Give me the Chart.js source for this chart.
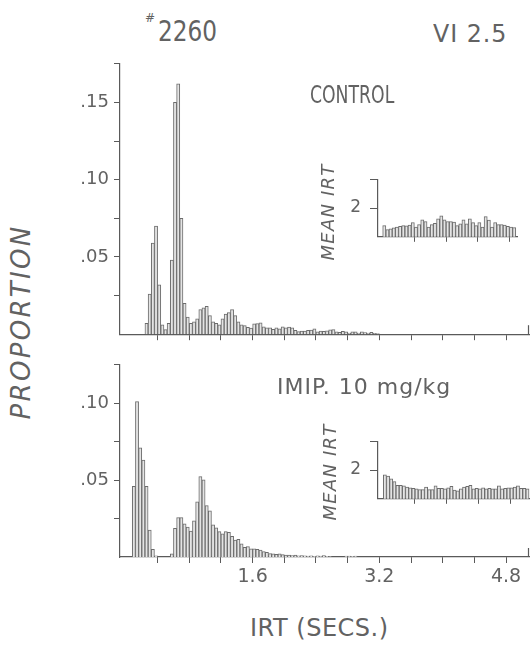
<!DOCTYPE html>
<html lang="en">
<head>
  <meta charset="UTF-8" />
  <title>IRT distribution - #2260 VI 2.5</title>
  <script src="https://cdn.jsdelivr.net/npm/chart.js"></script>
  <style>
    html, body { margin: 0; padding: 0; background: #fff; }
    #fig {
      position: relative; width: 530px; height: 651px; overflow: hidden;
      font-family: 'DejaVu Sans', sans-serif; color: #626262;
    }
    #fig canvas { position: absolute; }
    .lbl { position: absolute; white-space: nowrap; line-height: 1; transform-origin: 0 0; }
    .rot {
      position: absolute; white-space: nowrap; line-height: 1; font-style: italic;
      transform: translate(-50%, -50%) rotate(-90deg);
    }
  </style>
</head>
<body>
  <div id="fig">
    <canvas id="controlChart" width="490" height="302" style="left:40px;top:48px"></canvas>
    <canvas id="controlInset" width="188" height="96" style="left:330px;top:160px"></canvas>
    <canvas id="imipChart" width="490" height="251" style="left:40px;top:349px"></canvas>
    <canvas id="imipInset" width="200" height="96" style="left:330px;top:422px"></canvas>

    <div class="lbl" style="left:145px;top:12px;font-size:12px">#</div>
    <div class="lbl" style="left:158px;top:17px;font-size:29px;transform:scaleX(0.8)">2260</div>
    <div class="lbl" style="left:433px;top:21px;font-size:25px;letter-spacing:1px;transform:scaleX(0.95)">VI 2.5</div>
    <div class="lbl" style="left:310px;top:82px;font-size:25px;transform:scaleX(0.69)">CONTROL</div>
    <div class="lbl" style="left:277px;top:376px;font-size:22px;letter-spacing:1px">IMIP. 10 mg/kg</div>
    <div class="rot" style="left:21px;top:322px;font-size:26px;letter-spacing:2.3px">PROPORTION</div>
    <div class="rot" style="left:328px;top:212px;font-size:18px;letter-spacing:1.2px">MEAN IRT</div>
    <div class="rot" style="left:330px;top:472px;font-size:18px;letter-spacing:1.2px">MEAN IRT</div>
    <div class="lbl" style="left:250px;top:616px;font-size:24px;letter-spacing:0.5px">IRT (SECS.)</div>
  </div>

  <script>
    // bin width of the IRT histograms (seconds)
    const BIN = 0.04;

    // control session: proportion per bin, first bin centred at controlStart
    const controlStart = 0.26;
    const controlProp = [
      0.007, 0.026, 0.059, 0.070, 0.032, 0.006, 0.003, 0.007, 0.048, 0.150,
      0.162, 0.075, 0.020, 0.011, 0.007, 0.008, 0.010, 0.016, 0.017, 0.018,
      0.012, 0.008, 0.007, 0.006, 0.010, 0.013, 0.014, 0.016, 0.012, 0.008,
      0.006, 0.0055, 0.0045, 0.004, 0.0067, 0.0069, 0.0073, 0.0048, 0.0042, 0.0042,
      0.0031, 0.0042, 0.0035, 0.0048, 0.0042, 0.0046, 0.0042, 0.0025, 0.0017, 0.0021,
      0.0021, 0.0025, 0.0027, 0.0035, 0.0015, 0.002, 0.0018, 0.0022, 0.0028, 0.003,
      0.0015, 0.0012, 0.0018, 0.0015, 0.0008, 0.0015, 0.0015, 0.0008, 0.0015, 0.001,
      0.0008, 0.0012, 0.0006, 0.0004
    ];

    // imipramine 10 mg/kg session
    const imipStart = 0.10;
    const imipProp = [
      0.046, 0.101, 0.071, 0.063, 0.046, 0.0175, 0.005, 0.0008, 0, 0,
      0, 0, 0.002, 0.0186, 0.0257, 0.0257, 0.0215, 0.0194, 0.0169, 0.0236,
      0.0359, 0.0523, 0.0502, 0.0335, 0.030, 0.021, 0.019, 0.0165, 0.015, 0.0165,
      0.016, 0.0135, 0.011, 0.0115, 0.0085, 0.0063, 0.0068, 0.0053, 0.0053, 0.005,
      0.0045, 0.0035, 0.003, 0.0022, 0.002, 0.0018, 0.002, 0.0015, 0.0012, 0.0012,
      0.001, 0.0012, 0.0008, 0.001, 0.0008, 0.0006, 0.0008, 0.0005, 0.0008, 0.0006,
      0.001, 0.0004, 0.0003, 0, 0, 0, 0, 0.0006, 0.0006, 0.0004,
      0.0006
    ];

    // insets: mean IRT (s) per successive block
    const controlMeanIrt = [
      1.39, 1.25, 1.28, 1.31, 1.34, 1.36, 1.39, 1.38, 1.41, 1.49,
      1.34, 1.42, 1.59, 1.53, 1.34, 1.42, 1.47, 1.62, 1.73, 1.59,
      1.53, 1.53, 1.51, 1.39, 1.45, 1.59, 1.45, 1.62, 1.49, 1.39,
      1.49, 1.34, 1.70, 1.58, 1.34, 1.49, 1.42, 1.42, 1.41, 1.36,
      1.34, 1.32
    ];
    const imipMeanIrt = [
      1.83, 1.79, 1.69, 1.60, 1.47, 1.47, 1.45, 1.41, 1.38, 1.36,
      1.35, 1.32, 1.32, 1.41, 1.32, 1.32, 1.45, 1.36, 1.36, 1.35,
      1.38, 1.43, 1.30, 1.28, 1.35, 1.41, 1.43, 1.47, 1.35, 1.36,
      1.35, 1.38, 1.35, 1.36, 1.35, 1.35, 1.45, 1.35, 1.36, 1.38,
      1.38, 1.41, 1.45, 1.36, 1.36, 1.35
    ];

    // axes
    const xTickValues = [0.4, 0.8, 1.2, 1.6, 2.0, 2.4, 2.8, 3.2, 3.6, 4.0, 4.4, 4.8];
    const xLabelled = ['1.6', '3.2', '4.8'];
    const controlYTicks = [0.025, 0.05, 0.075, 0.1, 0.125, 0.15, 0.175];
    const imipYTicks = [0.025, 0.05, 0.075, 0.1, 0.125];
    const yLabelled = ['.05', '.10', '.15'];
    const insetXTicks = [9.5, 19.5, 29.5, 39.5];
    const insetYTicks = [2, 3];
    const insetYLabelled = ['2'];

    const AXIS = '#5a5a5a';
    const BAR_FILL = '#e4e4e4';
    const BAR_LINE = '#6c6c6c';

    Chart.defaults.font.family = "'DejaVu Sans', sans-serif";
    Chart.defaults.color = '#626262';

    // little upright stroke closing the right end of the IRT axis
    const axisEnd = {
      id: 'axisEnd',
      afterDraw(chart) {
        const { ctx, chartArea } = chart;
        ctx.save();
        ctx.strokeStyle = AXIS;
        ctx.lineWidth = 1.2;
        ctx.beginPath();
        ctx.moveTo(chartArea.right - 0.5, chartArea.bottom);
        ctx.lineTo(chartArea.right - 0.5, chartArea.bottom - 9);
        ctx.stroke();
        ctx.restore();
      }
    };

    function fixedTicks(values) {
      return scale => { scale.ticks = values.map(v => ({ value: v })); };
    }

    function barSet(points) {
      return {
        data: points,
        backgroundColor: BAR_FILL,
        borderColor: BAR_LINE,
        borderWidth: 1,
        borderSkipped: 'bottom',
        barPercentage: 1,
        categoryPercentage: 1
      };
    }

    function drawHistogram(id, start, values, yMax, yTicks, showXLabels, xAxisH) {
      const points = values.map((v, i) => ({ x: +(start + i * BIN).toFixed(2), y: v }));
      new Chart(document.getElementById(id), {
        type: 'bar',
        data: { datasets: [barSet(points)] },
        plugins: [axisEnd],
        options: {
          responsive: false,
          animation: false,
          events: [],
          layout: { padding: { top: 10, right: 1, left: 0, bottom: 0 } },
          plugins: { legend: { display: false }, tooltip: { enabled: false } },
          scales: {
            x: {
              type: 'linear', min: -0.075, max: 5.09, offset: false,
              afterBuildTicks: fixedTicks(xTickValues),
              afterFit: s => { s.height = xAxisH; },
              grid: { drawOnChartArea: false, tickLength: 6, color: AXIS, offset: false },
              border: { color: AXIS, width: 1.2 },
              ticks: {
                autoSkip: false, maxRotation: 0, padding: 3, font: { size: 19 },
                callback: v => (showXLabels && xLabelled.includes(v.toFixed(1))) ? v.toFixed(1) : ''
              }
            },
            y: {
              min: 0, max: yMax,
              afterBuildTicks: fixedTicks(yTicks),
              afterFit: s => { s.width = 80; },
              grid: { drawOnChartArea: false, tickLength: 6, color: AXIS },
              border: { color: AXIS, width: 1.2 },
              ticks: {
                autoSkip: false, padding: 5, font: { size: 18 },
                callback: v => {
                  const t = v.toFixed(2).replace(/^0/, '');
                  return yLabelled.includes(t) ? t : '';
                }
              }
            }
          }
        }
      });
    }

    function drawInset(id, values, xMin, xMax) {
      const points = values.map((v, i) => ({ x: i, y: v }));
      new Chart(document.getElementById(id), {
        type: 'bar',
        data: { datasets: [barSet(points)] },
        options: {
          responsive: false,
          animation: false,
          events: [],
          layout: { padding: { top: 10, right: 0, left: 0, bottom: 0 } },
          plugins: { legend: { display: false }, tooltip: { enabled: false } },
          scales: {
            x: {
              type: 'linear', min: xMin, max: xMax, offset: false,
              afterBuildTicks: fixedTicks(insetXTicks),
              afterFit: s => { s.height = 7; },
              grid: { drawOnChartArea: false, tickLength: 5, color: AXIS, offset: false },
              border: { color: AXIS, width: 1.2 },
              ticks: { autoSkip: false, padding: 0, callback: () => '' }
            },
            y: {
              min: 1, max: 3,
              afterBuildTicks: fixedTicks(insetYTicks),
              afterFit: s => { s.width = 48; },
              grid: { drawOnChartArea: false, tickLength: 8, color: AXIS },
              border: { color: AXIS, width: 1.2 },
              ticks: {
                autoSkip: false, padding: 9, font: { size: 17 },
                callback: v => insetYLabelled.includes(String(v)) ? String(v) : ''
              }
            }
          }
        }
      });
    }

    drawHistogram('controlChart', controlStart, controlProp, 0.175, controlYTicks, false, 12);
    drawHistogram('imipChart', imipStart, imipProp, 0.125, imipYTicks, true, 43);
    drawInset('controlInset', controlMeanIrt, -1.98, 42.2);
    drawInset('imipInset', imipMeanIrt, -2.17, 45.8);
  </script>
</body>
</html>
